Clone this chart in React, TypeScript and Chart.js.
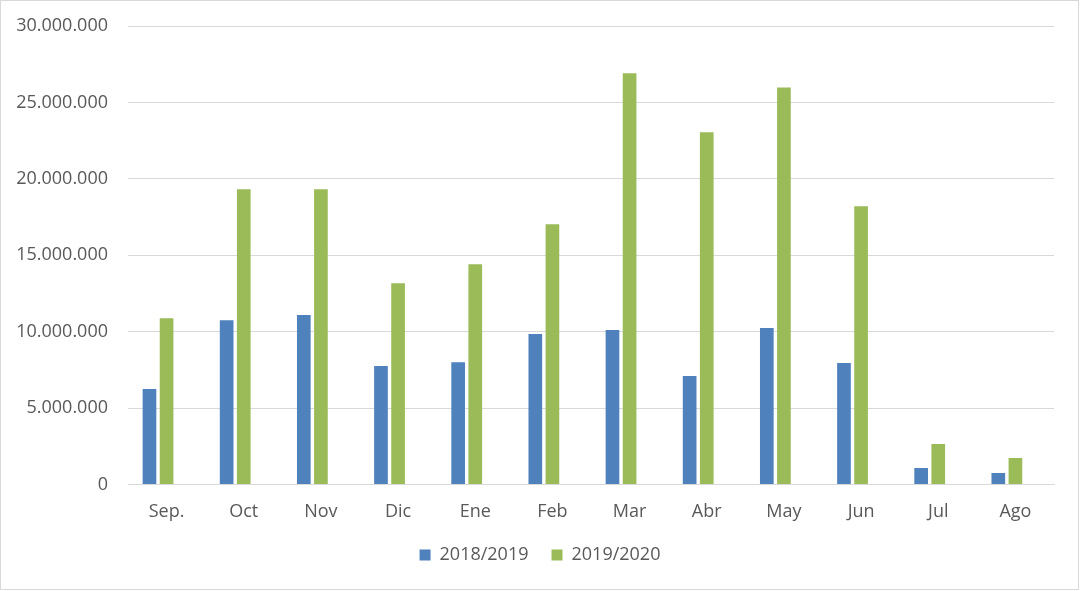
import React, { useEffect, useRef } from "react";
import { Chart, registerables } from "chart.js";

Chart.register(...registerables);

const months = ["Sep.", "Oct", "Nov", "Dic", "Ene", "Feb", "Mar", "Abr", "May", "Jun", "Jul", "Ago"];
const season1819 = [6240000, 10750000, 11080000, 7750000, 8000000, 9840000, 10100000, 7090000, 10230000, 7940000, 1080000, 750000];
const season1920 = [10880000, 19310000, 19310000, 13170000, 14410000, 17030000, 26900000, 23040000, 25980000, 18200000, 2650000, 1730000];
// empty third series slot (reserves space like the original spreadsheet chart)
const emptySeries = [null, null, null, null, null, null, null, null, null, null, null, null];
const seriesLabels = ["2018/2019", "2019/2020", ""];
const yTicks = [0, 5000000, 10000000, 15000000, 20000000, 25000000, 30000000];

const FONT = "'Open Sans', 'Liberation Sans', sans-serif";
const TEXT = "#595959";
const GRID = "#d9d9d9";

function fmt(v: number): string {
  return String(Math.round(v)).replace(/\B(?=(\d{3})+(?!\d))/g, ".");
}

export default function App() {
  const ref = useRef<HTMLCanvasElement | null>(null);
  useEffect(() => {
    if (!ref.current) return;
    const chart = new Chart(ref.current, {
      type: "bar",
      data: {
        labels: months,
        datasets: [
          { label: seriesLabels[0], data: season1819, backgroundColor: "#4F81BD", borderWidth: 0 },
          { label: seriesLabels[1], data: season1920, backgroundColor: "#9BBB59", borderWidth: 0 },
          { label: seriesLabels[2], data: emptySeries as any, backgroundColor: "rgba(0,0,0,0)", borderWidth: 0 },
        ],
      },
      options: {
        responsive: false,
        animation: false,
        devicePixelRatio: 1,
        layout: { padding: { left: 0, right: 0, top: 26, bottom: 17 } },
        datasets: { bar: { categoryPercentage: 0.665, barPercentage: 0.8 } },
        plugins: {
          tooltip: { enabled: false },
          legend: {
            position: "bottom",
            labels: {
              font: { family: FONT, size: 18 },
              color: TEXT,
              boxWidth: 11,
              boxHeight: 11,
              padding: 23,
              filter: (item) => item.text !== "",
            },
          },
        },
        scales: {
          x: {
            grid: { display: false, drawTicks: false },
            border: { display: true, color: GRID, width: 1 },
            ticks: { font: { family: FONT, size: 18 }, color: TEXT, padding: 17 },
            afterFit: (scale: any) => {
              scale.height = 38.6;
              scale.paddingLeft = 0;
              scale.paddingRight = 0;
            },
          },
          y: {
            min: 0,
            max: 30000000,
            afterBuildTicks: (scale: any) => {
              scale.ticks = yTicks.map((v) => ({ value: v }));
            },
            grid: { color: GRID, lineWidth: 1, drawTicks: false },
            border: { display: false },
            ticks: {
              font: { family: FONT, size: 18 },
              color: TEXT,
              padding: 20,
              callback: (v: any) => fmt(Number(v)),
            },
            afterFit: (scale: any) => {
              scale.width = 128;
              scale.paddingTop = 0;
              scale.paddingBottom = 0;
            },
          },
          yRight: {
            type: "linear",
            position: "right",
            display: true,
            grid: { display: false, drawTicks: false },
            border: { display: false },
            ticks: { display: false },
            afterFit: (scale: any) => {
              scale.width = 26;
              scale.paddingTop = 0;
              scale.paddingBottom = 0;
            },
          },
        },
      },
    });
    return () => chart.destroy();
  }, []);
  return (
    <div style={{ position: "absolute", left: 0, top: 0, width: 1080, height: 591, background: "#fff" }}>
      <canvas ref={ref} width={1080} height={591} style={{ display: "block" }} />
      <div
        style={{
          position: "absolute",
          left: 0,
          top: 0,
          width: 1079,
          height: 590,
          border: "1px solid #d9d9d9",
          boxSizing: "border-box",
          pointerEvents: "none",
        }}
      />
    </div>
  );
}
